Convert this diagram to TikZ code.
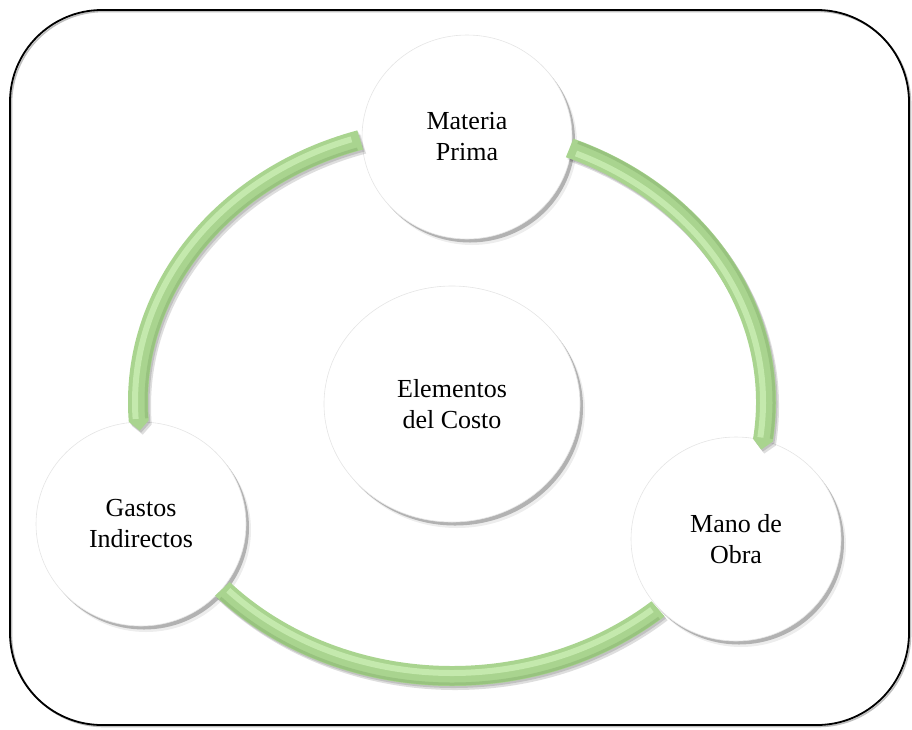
\documentclass[tikz,border=0pt]{standalone}
\usepackage{fontspec}
\setmainfont{Liberation Serif}
\usetikzlibrary{shapes.geometric,shadows}
\pgfdeclareradialshading{ballw}{\pgfpoint{-5bp}{5bp}}{color(0bp)=(white); color(32bp)=(white); color(45bp)=(black!5); color(50bp)=(black!13)}
\definecolor{bandmain}{HTML}{A9D48F}
\definecolor{bandlight}{HTML}{C4E9AD}
\definecolor{banddark}{HTML}{98C37F}
% band between elliptical arcs around the ring centre (452,402)
\newcommand\bandpath[3]{({452+324*cos(#1)},{402+284*sin(#1)}) arc[start angle=#1,end angle=#2,x radius=324,y radius=284] -- ({452+314*cos(#3)},{402+274*sin(#3)}) -- ({452+304*cos(#2)},{402+264*sin(#2)}) arc[start angle=#2,end angle=#1,x radius=304,y radius=264] -- cycle}
\newcommand\ringarc[4]{({452+#1*cos(#3)},{402+#2*sin(#3)}) arc[start angle=#3,end angle=#4,x radius=#1,y radius=#2]}
\begin{document}
\begin{tikzpicture}[x=1pt,y=-1pt,
  disc/.style={ellipse, shade, shading=ballw, draw=black!10, line width=0.6pt,
    inner sep=0pt, align=center, text=black, font=\fontsize{26}{31}\selectfont,
    minimum width=210pt, minimum height=204pt,
    general shadow={shadow xshift=5pt, shadow yshift=-6pt, fill=black, opacity=.07},
    general shadow={shadow xshift=3pt, shadow yshift=-3.5pt, fill=black, opacity=.25}},
  bigdisc/.style={disc, minimum width=256pt, minimum height=236pt},
  bandfill/.style={fill=bandmain},
  bandshadow/.style={fill=black, opacity=.13},
  framebox/.style={draw=black, line width=1.8pt, rounded corners=92pt}]
\useasboundingbox (0,0) rectangle (912,729);
% outer frame with shadow
\draw[black!25, line width=1.6pt, rounded corners=92pt] (11.5,11.5) rectangle (910.5,726.5);
\draw[framebox] (10,10) rectangle (909,725);
% nodes
\node[disc] (mp) at (467,137) {Materia\\Prima};
\node[bigdisc] (ec) at (452,404) {Elementos\\del Costo};
\node[disc] (gi) at (141,524) {Gastos\\Indirectos};
\node[disc] (mo) at (736,539) {Mano de\\Obra};
% band shadows
\fill[bandshadow, shift={(3,4)}] \bandpath{253}{176}{174};
\fill[bandshadow, shift={(3,4)}] \bandpath{292}{368}{370};
\fill[bandshadow, shift={(3,4)}] \bandpath{137}{49}{49};
\fill[bandshadow, shift={(1.5,2)}] \bandpath{253}{176}{174};
\fill[bandshadow, shift={(1.5,2)}] \bandpath{292}{368}{370};
\fill[bandshadow, shift={(1.5,2)}] \bandpath{137}{49}{49};
% bands
\fill[bandfill] \bandpath{253}{176}{174};
\fill[bandfill] \bandpath{292}{368}{370};
\fill[bandfill] \bandpath{137}{49}{49};
% soft bevel: lit side and shaded side
\draw[bandlight, line width=6pt] \ringarc{317}{277}{251.5}{176.5};
\draw[banddark, line width=3pt] \ringarc{306}{266}{252}{176.5};
\draw[bandlight, line width=6pt] \ringarc{311}{271}{293.5}{367.5};
\draw[banddark, line width=3pt] \ringarc{322}{282}{293}{367.5};
\draw[bandlight, line width=6pt] \ringarc{311}{271}{136}{50};
\draw[banddark, line width=3pt] \ringarc{322}{282}{136}{50};
\end{tikzpicture}
\end{document}
